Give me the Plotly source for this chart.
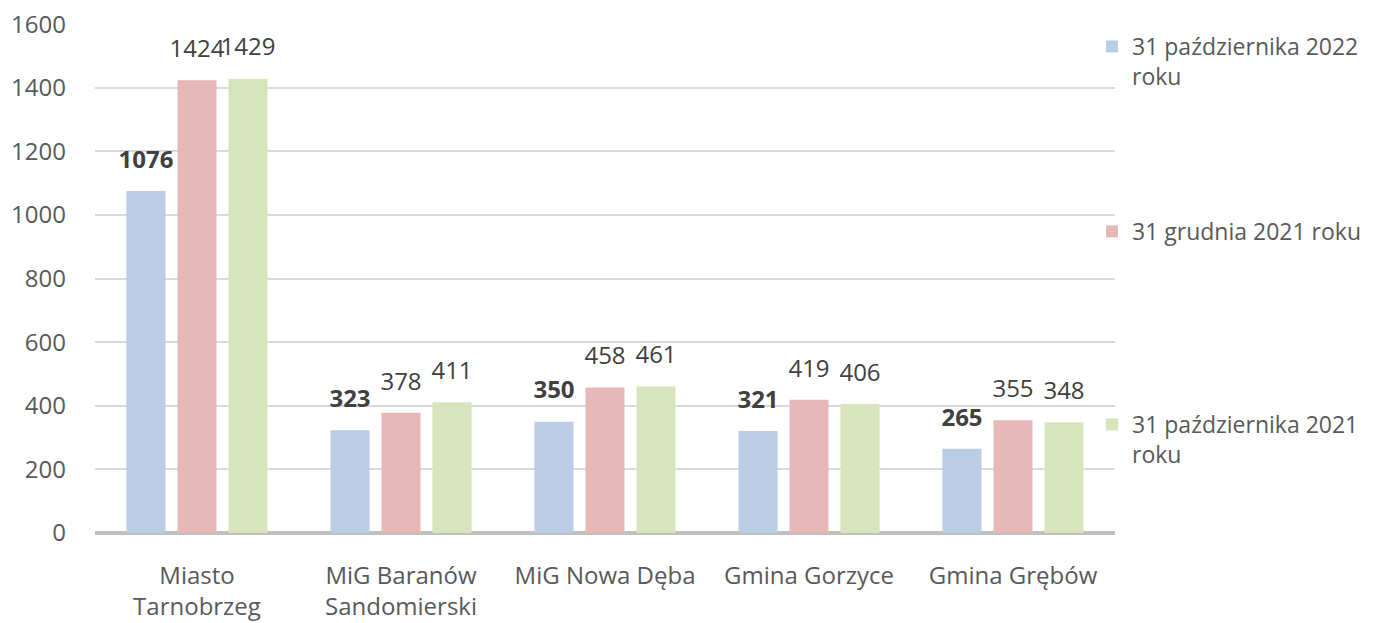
import plotly.graph_objects as go

categories = ["Miasto<br>Tarnobrzeg", "MiG Baranów<br>Sandomierski", "MiG Nowa Dęba", "Gmina Gorzyce", "Gmina Grębów"]
series_names = ["31 października 2022<br>roku", "31 grudnia 2021 roku", "31 października 2021<br>roku"]
oct_2022 = [1076, 323, 350, 321, 265]
dec_2021 = [1424, 378, 458, 419, 355]
oct_2021 = [1429, 411, 461, 406, 348]
y_ticks = [0, 200, 400, 600, 800, 1000, 1200, 1400, 1600]

colors = ["#b9cde5", "#e6b9b8", "#d7e4bd"]
FONT = "Open Sans"
TXT = "#595959"
FS = 24
LABEL_OFFSET = 92  # data units above bar top for label centre

fig = go.Figure()
series = [oct_2022, dec_2021, oct_2021]
legends = ["legend", "legend2", "legend3"]
for i, (vals, name, col, lg) in enumerate(zip(series, series_names, colors, legends)):
    fig.add_trace(go.Bar(
        x=categories, y=vals, name=name, marker=dict(color=col, line=dict(width=0)),
        legend=lg, hoverinfo="skip", offsetgroup=str(i),
    ))
for i, vals in enumerate(series):
    txt = [f"<b>{v}</b>" if i == 0 else str(v) for v in vals]
    fig.add_trace(go.Scatter(
        x=categories, y=[v + LABEL_OFFSET for v in vals], mode="text", text=txt,
        textposition="middle center", showlegend=False, hoverinfo="skip",
        offsetgroup="s" + str(i), alignmentgroup="labels",
        textfont=dict(family=FONT, size=FS, color="#404040"), cliponaxis=False,
    ))

leg_common = dict(font=dict(family=FONT, size=23, color=TXT), bgcolor="rgba(0,0,0,0)",
                  xref="container", yref="container", xanchor="left", yanchor="top",
                  valign="top", itemwidth=30, itemsizing="constant")
fig.update_layout(
    width=1373, height=623,
    margin=dict(l=87, r=266, t=16, b=98, autoexpand=False),
    paper_bgcolor="white", plot_bgcolor="white",
    barmode="group", bargap=0.25, bargroupgap=0.235,
    scattermode="group", scattergap=0.25,
    font=dict(family=FONT, size=FS, color=TXT),
    xaxis=dict(showgrid=False, ticks="", tickfont=dict(family=FONT, size=FS, color=TXT),
               ticklabelstandoff=26, showline=False, automargin=False),
    yaxis=dict(range=[0, 1601], tickvals=y_ticks, showgrid=True, gridcolor="#d9d9d9", gridwidth=2,
               zeroline=True, zerolinecolor="#bfbfbf", zerolinewidth=4, automargin=False,
               ticklabeloverflow="allow",
               tickfont=dict(family=FONT, size=FS, color=TXT), ticklabelstandoff=28, ticks=""),
    legend=dict(x=1084 / 1373, y=1 - 17 / 623, **leg_common),
    legend2=dict(x=1084 / 1373, y=1 - 202 / 623, **leg_common),
    legend3=dict(x=1084 / 1373, y=1 - 395 / 623, **leg_common),
    showlegend=True,
)

fig.write_html("out.html")
